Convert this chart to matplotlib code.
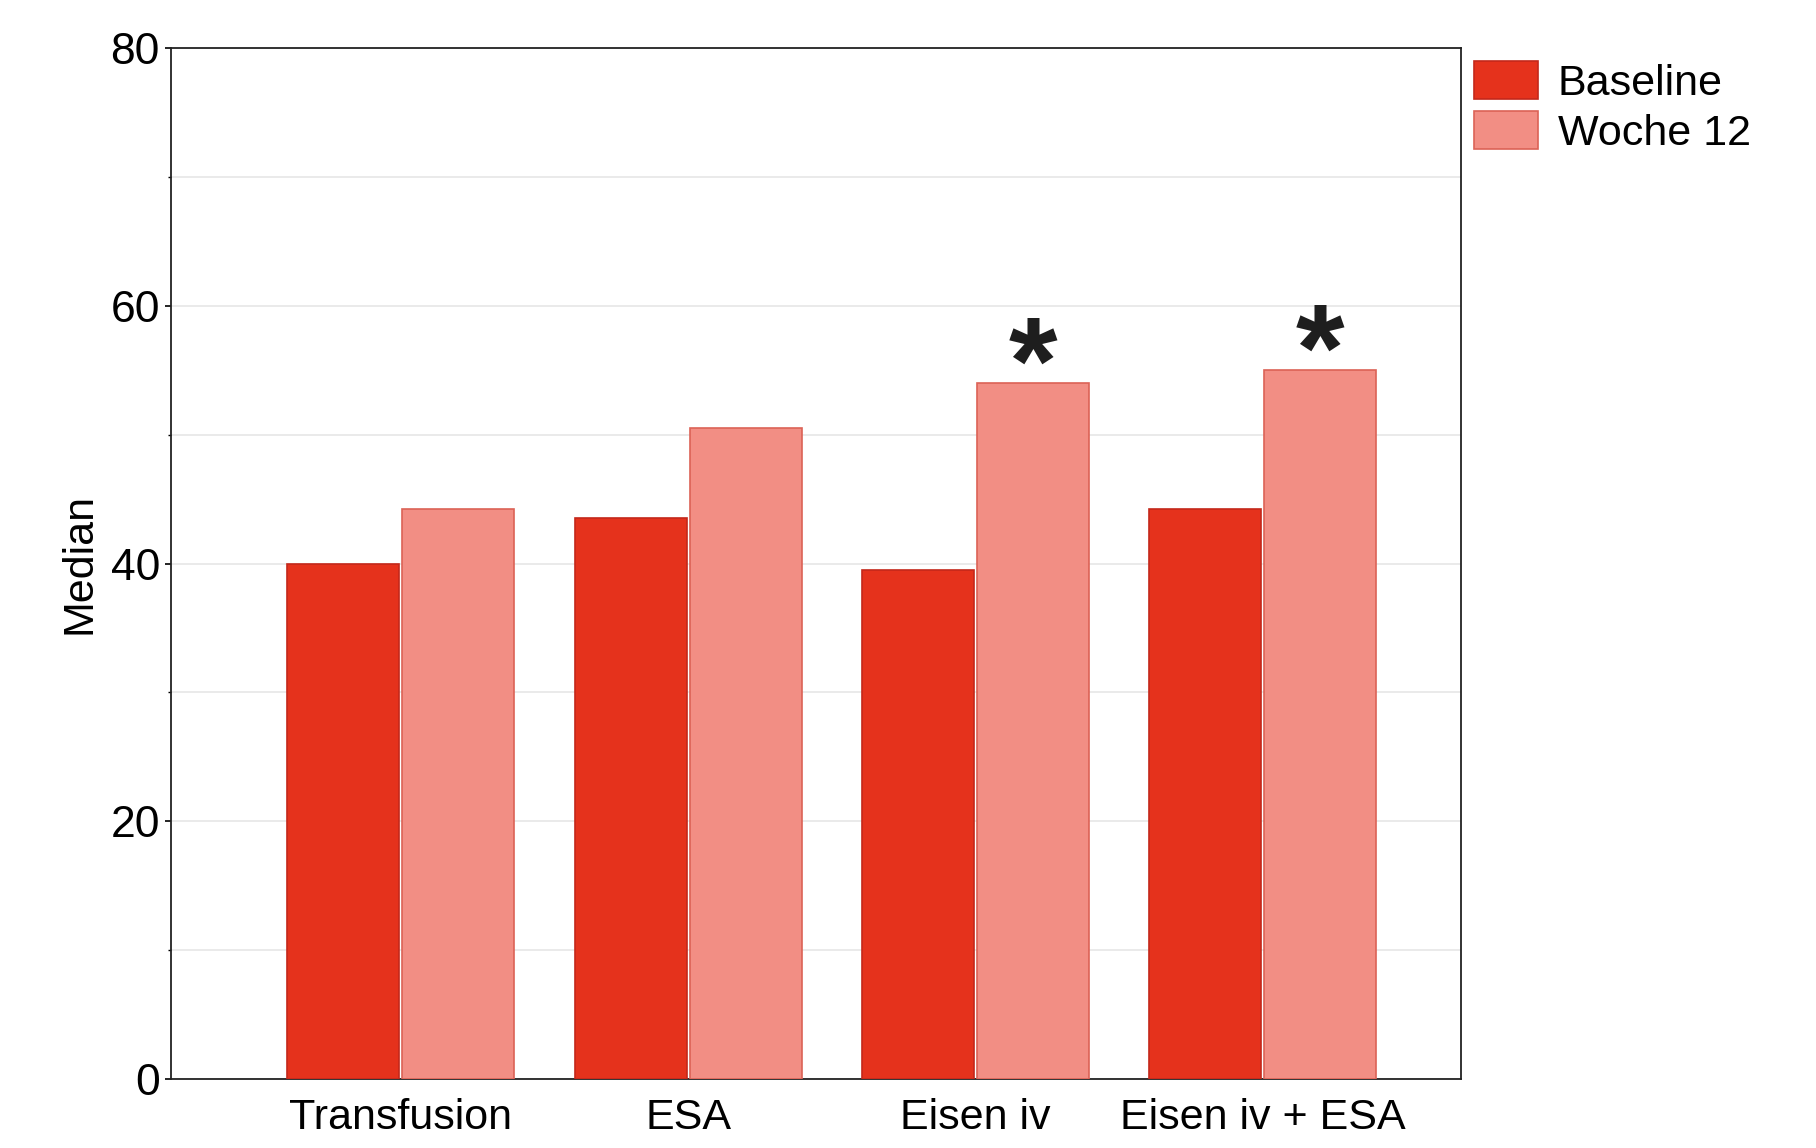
import matplotlib.pyplot as plt
import numpy as np

plt.rcParams['font.family'] = ['Liberation Sans', 'DejaVu Sans']

categories = ['Transfusion', 'ESA', 'Eisen iv', 'Eisen iv + ESA']
baseline = [40.0, 43.5, 39.5, 44.2]
woche12 = [44.2, 50.5, 54.0, 55.0]
signif = [False, False, True, True]  # stars over Woche 12

BASE_COL = '#e5321c'
W12_COL = '#f28e84'

fig = plt.figure(figsize=(18.16, 11.48), dpi=100)
ax = fig.add_axes([171/1816, 1 - 1079/1148, (1461-171)/1816, (1079-48)/1148])

x = np.arange(len(categories))
w = 0.39
ax.bar(x - w/2 - 0.005, baseline, w, color=BASE_COL, edgecolor='#c4281a', linewidth=1.2, label='Baseline', zorder=3)
ax.bar(x + w/2 + 0.005, woche12, w, color=W12_COL, edgecolor='#dc6256', linewidth=1.2, label='Woche 12', zorder=3)

# significance stars (glyph sits high in its box, hence the negative offset)
for i, s in enumerate(signif):
    if s:
        ax.text(x[i] + w/2 + 0.005, woche12[i] - 3.6, '*', ha='center', va='bottom',
                fontsize=90, fontweight='bold', color='#1e1e1e', zorder=4)

ax.set_xlim(-0.80, 3.69)
ax.set_ylim(0, 80)
ax.set_yticks([0, 20, 40, 60, 80])
ax.set_yticks([10, 30, 50, 70], minor=True)
ax.set_xticks(x)
ax.set_xticklabels(categories)
ax.tick_params(axis='y', labelsize=32, length=4, width=1.2, direction='out', pad=4)
ax.tick_params(axis='y', which='minor', length=2.5, width=1)
ax.tick_params(axis='x', labelsize=31, length=0, pad=14)
ax.grid(axis='y', which='both', color='#e6e6e6', linewidth=1.2, zorder=0)
ax.set_ylabel('Median', fontsize=31, labelpad=7.5)
for sp in ax.spines.values():
    sp.set_linewidth(1.3)
    sp.set_color('#222222')

ax.legend(loc='upper left', bbox_to_anchor=(1.0, 1.0), frameon=False, fontsize=31,
          handlelength=1.48, handleheight=1.0, borderaxespad=0.0, borderpad=0.3,
          labelspacing=0.16, handletextpad=0.47)

fig.savefig('out.png', dpi=100)
